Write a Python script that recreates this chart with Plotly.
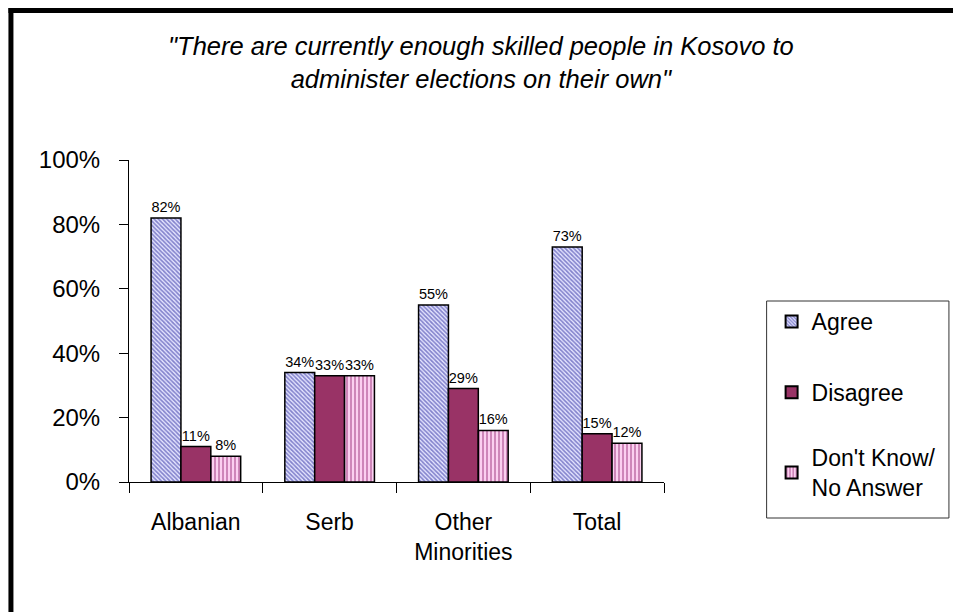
import plotly.graph_objects as go

# Survey results by community
categories = ["Albanian", "Serb", "Other<br>Minorities", "Total"]
agree = [82, 34, 55, 73]
disagree = [11, 33, 29, 15]
dont_know = [8, 33, 16, 12]
series_names = ["Agree", "Disagree", "Don't Know/<br>No Answer"]
y_ticks = [0, 20, 40, 60, 80, 100]
title_text = ("<i>\"There are currently enough skilled people in Kosovo to<br>"
              "administer elections on their own\"</i>")

W, H = 953, 612
L, R, T, B = 129, 666, 160, 482  # plot area in pixels


def px_x(p):
    return (p - L) / (R - L)


def px_y(p):
    return (B - p) / (B - T)


FONT = "Arial, Liberation Sans, sans-serif"

styles = [
    dict(color="#9c9ce6", pattern=dict(shape="\\", size=3, solidity=0.55,
                                       fgcolor="#1f1f99", bgcolor="#e6e6ff")),
    dict(color="#993366"),
    dict(color="#e0a0d0", pattern=dict(shape="|", size=4, solidity=0.5,
                                       fgcolor="#a23c82", bgcolor="#fbd0f0")),
]
legend_refs = ["legend", "legend", "legend2"]

fig = go.Figure()
for i, (name, vals) in enumerate(zip(series_names, [agree, disagree, dont_know])):
    fig.add_trace(go.Bar(
        x=categories,
        y=vals,
        name=name,
        legendgroup=str(i),
        legend=legend_refs[i],
        text=[f"{v}%" for v in vals],
        textposition="outside",
        constraintext="none",
        textfont=dict(family=FONT, size=14.5, color="black"),
        cliponaxis=False,
        marker=dict(line=dict(color="black", width=1.5), **styles[i]),
    ))

shapes = [
    # outer frame (left and top edges)
    dict(type="line", xref="paper", yref="paper",
         x0=px_x(10.5), x1=px_x(10.5), y0=px_y(8), y1=px_y(620),
         line=dict(color="black", width=5)),
    dict(type="line", xref="paper", yref="paper",
         x0=px_x(8), x1=px_x(960), y0=px_y(10.5), y1=px_y(10.5),
         line=dict(color="black", width=5)),
    # legend box
    dict(type="rect", xref="paper", yref="paper",
         x0=px_x(769), x1=px_x(952), y0=px_y(301), y1=px_y(518),
         line=dict(color="#333333", width=1), fillcolor="white", layer="below"),
]

legend_style = dict(
    xanchor="left", yanchor="top",
    bgcolor="rgba(0,0,0,0)", borderwidth=0,
    font=dict(family=FONT, size=23, color="black"),
    itemsizing="constant",
)

fig.update_layout(
    width=W, height=H,
    margin=dict(l=L, r=W - R, t=T, b=H - B),
    paper_bgcolor="white", plot_bgcolor="white",
    barmode="group", bargap=0.33, bargroupgap=0,
    font=dict(family=FONT, color="black"),
    showlegend=True,
    legend=dict(x=px_x(774), y=px_y(300), tracegroupgap=38, **legend_style),
    legend2=dict(x=px_x(774), y=px_y(436), **legend_style),
    shapes=shapes,
    annotations=[dict(
        text=title_text, xref="paper", yref="paper",
        x=px_x(482), y=px_y(30), xanchor="center", yanchor="top",
        showarrow=False, align="center",
        font=dict(family=FONT, size=25.5, color="black"),
    )],
    xaxis=dict(
        showline=True, linecolor="black", linewidth=1,
        ticks="outside", ticklen=10, tickcolor="black", tickson="boundaries",
        tickfont=dict(family=FONT, size=23, color="black"),
        ticklabelstandoff=19,
        showgrid=False, zeroline=False,
    ),
    yaxis=dict(
        range=[0, 100], tickvals=y_ticks,
        ticktext=[f"{v}%" for v in y_ticks],
        showline=True, linecolor="black", linewidth=1,
        ticks="outside", ticklen=9, tickcolor="black",
        tickfont=dict(family=FONT, size=24, color="black"),
        ticklabelstandoff=14,
        showgrid=False, zeroline=False,
    ),
)

fig.write_html("out.html")
